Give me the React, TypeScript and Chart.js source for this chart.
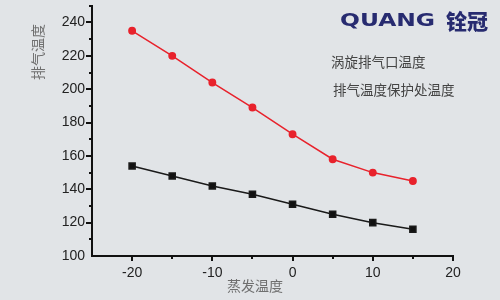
import React, { useEffect, useRef } from "react";
import { Chart, registerables } from "chart.js";

Chart.register(...registerables);

const evapTemps = [-20, -15, -10, -5, 0, 5, 10, 15];
const scrollOutletTemp = [235, 220, 204, 189, 173, 158, 150, 145];
const protectionTemp = [154, 148, 142, 137, 131, 125, 120, 116];
const seriesNames = ["涡旋排气口温度", "排气温度保护处温度"];
const xTitle = "蒸发温度";
const yTitle = "排气温度";
const yMajorLabels = [100, 120, 140, 160, 180, 200, 220, 240];
const xMajorLabels = [-20, -10, 0, 10, 20];

const CJK = '"Noto Sans CJK SC", "Noto Sans", sans-serif';

const decor = {
  id: "decor",
  beforeDraw(chart: any) {
    const ctx = chart.ctx;
    ctx.save();
    ctx.fillStyle = "#e1e4e7";
    ctx.fillRect(0, 0, chart.width, chart.height);
    ctx.restore();
  },
  afterDraw(chart: any) {
    const ctx = chart.ctx;
    const xs = chart.scales.x;
    const ys = chart.scales.y;
    const area = chart.chartArea;
    ctx.save();
    ctx.strokeStyle = "#111";
    ctx.lineWidth = 2;
    // x tick marks
    for (let v = -20; v <= 20; v += 5) {
      const px = Math.round(xs.getPixelForValue(v));
      const len = v % 10 === 0 ? 5 : 3;
      ctx.beginPath();
      ctx.moveTo(px, area.bottom);
      ctx.lineTo(px, area.bottom + len);
      ctx.stroke();
    }
    // y tick marks
    for (let v = 110; v <= 250; v += 10) {
      const py = Math.round(ys.getPixelForValue(v));
      const len = v % 20 === 0 ? 6 : 3;
      ctx.beginPath();
      ctx.moveTo(area.left, py);
      ctx.lineTo(area.left - len, py);
      ctx.stroke();
    }
    // axis titles
    ctx.fillStyle = "#6f6f6f";
    ctx.font = `14px ${CJK}`;
    ctx.textAlign = "center";
    ctx.textBaseline = "middle";
    ctx.fillText(xTitle, 255, 286);
    ctx.save();
    ctx.translate(38, 52);
    ctx.rotate(-Math.PI / 2);
    ctx.fillText(yTitle, 0, 0);
    ctx.restore();
    // legend texts
    ctx.fillStyle = "#444";
    ctx.font = `13.5px ${CJK}`;
    ctx.textAlign = "left";
    ctx.fillText(seriesNames[0], 331, 62);
    ctx.fillText(seriesNames[1], 333, 90);
    // logo
    ctx.fillStyle = "#272b70";
    ctx.textBaseline = "alphabetic";
    ctx.font = `bold 18px "DejaVu Sans", sans-serif`;
    ctx.save();
    ctx.translate(340, 26);
    ctx.scale(1.3, 1.0);
    ctx.fillText("QUANG", 0, 0);
    ctx.restore();
    ctx.font = `900 21px ${CJK}`;
    ctx.fillText("铨冠", 446, 29);
    ctx.restore();
  },
};

export default function App() {
  const ref = useRef<HTMLCanvasElement | null>(null);
  useEffect(() => {
    if (!ref.current) return;
    const chart = new Chart(ref.current, {
      type: "line",
      data: {
        datasets: [
          {
            label: seriesNames[0],
            data: evapTemps.map((x, i) => ({ x, y: scrollOutletTemp[i] })),
            borderColor: "#e8222c",
            backgroundColor: "#e8222c",
            borderWidth: 1.5,
            pointRadius: 3.2,
            pointStyle: "circle",
            tension: 0,
          },
          {
            label: seriesNames[1],
            data: evapTemps.map((x, i) => ({ x, y: protectionTemp[i] })),
            borderColor: "#1a1a1a",
            backgroundColor: "#111",
            borderWidth: 1.5,
            pointRadius: 4.3,
            pointStyle: "rect",
            tension: 0,
          },
        ],
      },
      options: {
        animation: false,
        responsive: false,
        maintainAspectRatio: false,
        layout: { padding: { left: 0, top: 5, right: 47, bottom: 0 } },
        plugins: { legend: { display: false }, tooltip: { enabled: false } },
        scales: {
          x: {
            type: "linear",
            min: -25,
            max: 20,
            grid: { display: false, drawTicks: false },
            border: { display: true, color: "#111", width: 2 },
            afterFit: (s: any) => {
              s.height = 44;
              s.paddingLeft = 0;
              s.paddingRight = 0;
            },
            ticks: {
              stepSize: 5,
              padding: 9,
              color: "#222",
              font: { family: '"Liberation Sans", Arial, sans-serif', size: 14 },
              callback: (v: any) => (xMajorLabels.includes(v) ? String(v) : ""),
              maxRotation: 0,
              autoSkip: false,
            },
          },
          y: {
            type: "linear",
            min: 100,
            max: 250,
            grid: { display: false, drawTicks: false },
            border: { display: true, color: "#111", width: 2 },
            afterFit: (s: any) => {
              s.width = 92;
              s.paddingTop = 0;
              s.paddingBottom = 0;
            },
            ticks: {
              stepSize: 10,
              padding: 7,
              color: "#222",
              font: { family: '"Liberation Sans", Arial, sans-serif', size: 14 },
              callback: (v: any) => (yMajorLabels.includes(v) ? String(v) : ""),
              autoSkip: false,
            },
          },
        },
      },
      plugins: [decor],
    });
    return () => chart.destroy();
  }, []);
  return (
    <div style={{ position: "absolute", left: 0, top: 0, width: 500, height: 300 }}>
      <canvas ref={ref} width={500} height={300} />
    </div>
  );
}
